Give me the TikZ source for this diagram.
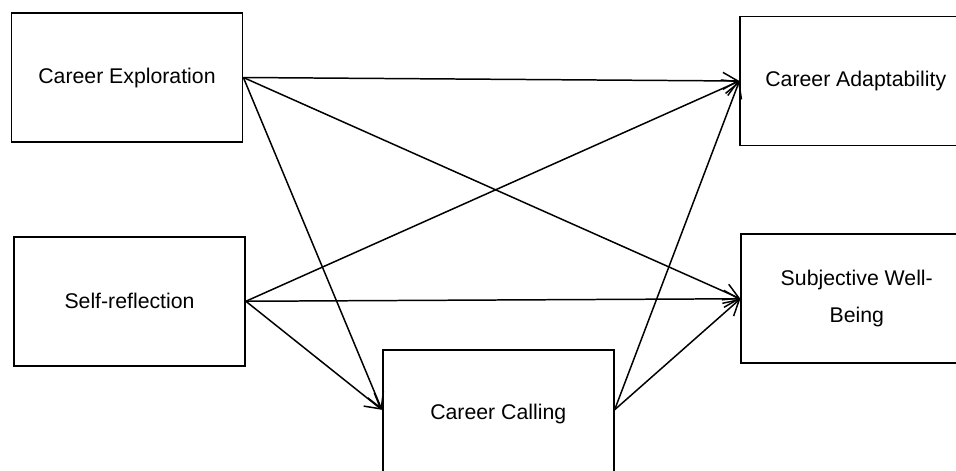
\documentclass[tikz,border=0pt]{standalone}
\usepackage{fontspec}
\setmainfont{Liberation Sans}
\usetikzlibrary{arrows.meta, positioning}

\begin{document}
\begin{tikzpicture}[
  node distance=1.8cm,
  varbox/.style={rectangle, draw=black, line width=1pt, minimum width=4.62cm, minimum height=2.58cm, align=center, font=\fontsize{12.1}{21}\selectfont},
  arrow/.style={-{Straight Barb[length=3mm, width=3.4mm]}, line width=0.85pt}
]
  \useasboundingbox (-2.54,1.55) rectangle (16.58,-7.85);
  \clip (-2.54,1.55) rectangle (16.58,-7.85);

  % Predictors - left column
  \node[varbox] (explore) at (0,0) {Career Exploration};
  \node[varbox, below=1.86cm of explore, xshift=0.05cm] (reflect) {Self-reflection};

  % Mediator - cut by the bottom edge
  \node[varbox, right=2.72cm of reflect, yshift=-2.26cm] (calling) {Career Calling};

  % Outcomes - right column, cut by the right edge
  \node[varbox, right=9.92cm of explore, yshift=-0.07cm] (adapt) {Career Adaptability};
  \node[varbox, below=1.74cm of adapt, xshift=0.02cm] (wellbeing) {Subjective Well-\\Being};

  % Paths
  \draw[arrow] (explore.east) -- (adapt.west);
  \draw[arrow] (explore.east) -- (wellbeing.west);
  \draw[arrow] (explore.east) -- ([yshift=0.09cm]calling.west);
  \draw[arrow] (reflect.east) -- (adapt.west);
  \draw[arrow] (reflect.east) -- (wellbeing.west);
  \draw[arrow] (reflect.east) -- ([yshift=0.09cm]calling.west);
  \draw[arrow] ([yshift=0.09cm]calling.east) -- (adapt.west);
  \draw[arrow] ([yshift=0.09cm]calling.east) -- (wellbeing.west);
\end{tikzpicture}
\end{document}
